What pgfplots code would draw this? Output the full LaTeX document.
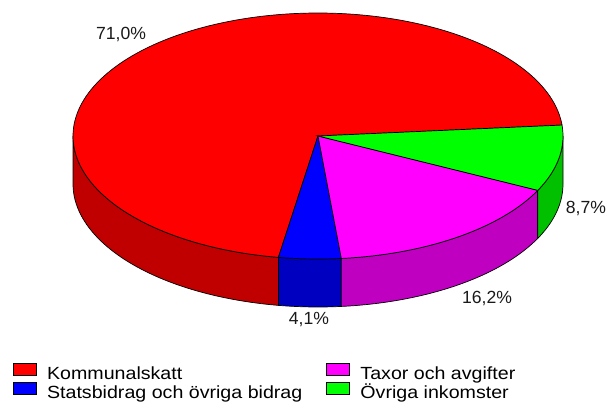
\documentclass[border=0pt]{standalone}
\usepackage{fontspec}
\setmainfont{Liberation Sans}
\newfontfamily\legfont[FakeStretch=1.115]{Liberation Sans}
\usepackage{pgfplots}
\usepackage{pgfplotstable}
\pgfplotsset{compat=1.18}
\usepgfplotslibrary{fillbetween}
\definecolor{kred}{HTML}{FF0000}
\definecolor{kredside}{HTML}{C00000}
\definecolor{kblue}{HTML}{0000FF}
\definecolor{kblueside}{HTML}{0000C0}
\definecolor{kmag}{HTML}{FF00FF}
\definecolor{kmagside}{HTML}{C000C0}
\definecolor{kgreen}{HTML}{00FF00}
\definecolor{kgreenside}{HTML}{00C000}

\pgfplotstableread{
value
71.0
4.1
16.2
8.7
}\piedata

% geometry (axis units = px): centre, radii, depth
\def\cx{318}\def\cy{267}\def\rx{245}\def\ry{123}\def\cyb{219}

\newcommand\sideface[4]{% name, colour, from, to
  \addplot[draw=none, name path=top#1, domain=#3:#4, samples=60] ({\cx+\rx*cos(x)},{\cy+\ry*sin(x)});
  \addplot[draw=none, name path=bot#1, domain=#3:#4, samples=60] ({\cx+\rx*cos(x)},{\cyb+\ry*sin(x)});
  \addplot[fill=#2, draw=black, line width=0.7bp] fill between[of=top#1 and bot#1];
}
\newcommand\topface[4]{% colour, from, to, samples
  \addplot[fill=#1, draw=black, line width=0.7bp, domain=#2:#3, samples=#4] ({\cx+\rx*cos(x)},{\cy+\ry*sin(x)}) -- (axis cs:\cx,\cy) -- cycle;
}

\begin{document}%
\begin{tikzpicture}
\pgfplotstablegetelem{0}{value}\of\piedata \let\vK\pgfplotsretval
\pgfplotstablegetelem{1}{value}\of\piedata \let\vS\pgfplotsretval
\pgfplotstablegetelem{2}{value}\of\piedata \let\vT\pgfplotsretval
\pgfplotstablegetelem{3}{value}\of\piedata \let\vO\pgfplotsretval
\pgfmathsetmacro\aK{5.1}
\pgfmathsetmacro\bK{\aK+3.6*\vK}
\pgfmathsetmacro\bS{\bK+3.6*\vS}
\pgfmathsetmacro\bT{\bS+3.6*\vT}
\pgfmathsetmacro\bO{\bT+3.6*\vO}
\begin{axis}[
  scale only axis, width=607bp, height=403bp,
  xmin=0, xmax=607, ymin=0, ymax=403,
  hide axis, clip=false,
  legend columns=2, transpose legend, legend cell align=left,
  legend image code/.code={\draw[#1, draw=black, line width=0.6bp] (0bp,4.3bp) rectangle (23bp,16.3bp);},
  legend style={draw=none, fill=none, inner sep=0pt, outer sep=0pt,
    at={(0.0214,0.0067)}, anchor=south west,
    font=\legfont\fontsize{17.6bp}{20bp}\selectfont,
    nodes={inner sep=0pt, text height=17bp, text depth=2bp, anchor=base west},
    row sep=0bp,
    /tikz/every odd column/.append style={column sep=10.5bp},
    /tikz/every even column/.append style={column sep=24bp}},
]
\addlegendimage{fill=kred}\addlegendentry{Kommunalskatt}
\addlegendimage{fill=kblue}\addlegendentry{Statsbidrag och övriga bidrag}
\addlegendimage{fill=kmag}\addlegendentry{Taxor och avgifter}
\addlegendimage{fill=kgreen}\addlegendentry{Övriga inkomster}

\addplot[draw=none] coordinates {(0,0) (607,403)};

% side faces (front half only)
\sideface{R}{kredside}{180}{\bK}
\sideface{B}{kblueside}{\bK}{\bS}
\sideface{M}{kmagside}{\bS}{\bT}
\sideface{G}{kgreenside}{\bT}{360}

% top faces
\topface{kred}{\aK}{\bK}{150}
\topface{kblue}{\bK}{\bS}{10}
\topface{kmag}{\bS}{\bT}{40}
\topface{kgreen}{\bT}{\bO}{25}

\begin{scope}[every node/.style={font=\fontsize{17.6bp}{20bp}\selectfont, text=black!90, inner sep=0pt}]
\node at (axis cs:121,369) {71,0\%};
\node at (axis cs:586,195) {8,7\%};
\node at (axis cs:487,105) {16,2\%};
\node at (axis cs:309,83) {4,1\%};
\end{scope}
\end{axis}
\end{tikzpicture}%
\end{document}
